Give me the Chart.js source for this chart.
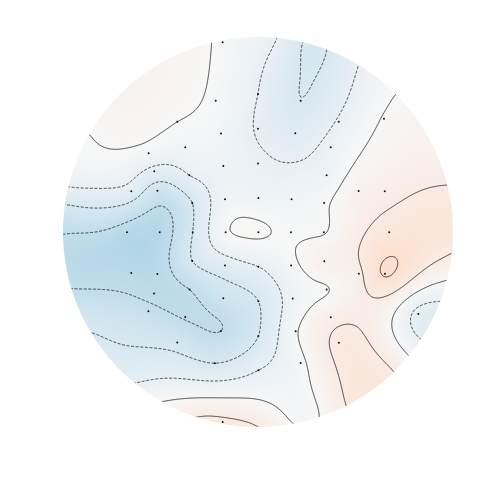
<!DOCTYPE html>
<html><head><meta charset="utf-8">
<script src="https://cdn.jsdelivr.net/npm/chart.js@4/dist/chart.umd.min.js"></script>
<style>html,body{margin:0;padding:0;background:#fff}canvas{display:block}</style>
</head><body>
<canvas id="c" width="504" height="504"></canvas>
<script>
// ---- data (head coordinates, unit circle = head outline) ----
const sensorX = [-0.181,-0.217,0.000,0.219,-0.414,0.414,0.646,-0.190,0.000,0.191,-0.561,-0.373,0.373,-0.532,-0.352,-0.178,0.000,0.352,-0.650,-0.516,0.516,0.650,-0.337,-0.169,0.002,0.172,0.339,-0.672,-0.504,-0.335,-0.166,0.002,0.169,0.338,0.673,-0.337,-0.169,0.002,0.170,0.340,-0.650,-0.516,0.517,0.651,-0.533,-0.351,-0.178,0.002,0.178,0.352,-0.562,-0.373,0.373,0.822,-0.190,0.002,0.193,-0.414,0.415,-0.221,0.002,0.219,-0.181];
const sensorY = [0.973,0.673,0.708,0.673,0.565,0.565,0.581,0.505,0.529,0.507,0.404,0.435,0.435,0.312,0.291,0.339,0.351,0.291,0.209,0.211,0.210,0.209,0.149,0.168,0.175,0.168,0.149,-0.001,-0.001,-0.001,-0.001,-0.001,-0.001,-0.001,-0.001,-0.149,-0.172,-0.178,-0.172,-0.150,-0.210,-0.215,-0.214,-0.214,-0.315,-0.295,-0.340,-0.355,-0.341,-0.295,-0.406,-0.436,-0.437,-0.421,-0.508,-0.533,-0.509,-0.567,-0.568,-0.673,-0.709,-0.672,-0.974];
const sensorValue = [-0.15,-0.15,-1.0,-1.98,0.0,-0.9,0.05,-0.35,-1.1,-1.5,-0.3,-0.4,-0.7,-1.3,-1.0,-0.6,-0.8,-0.5,-1.4,-2.5,0.5,0.7,-2.0,-0.5,-0.55,-0.4,-0.1,-3.35,-3.4,-2.0,-0.12,0.1,-0.1,-0.05,1.4,-2.0,-1.5,-1.0,-0.2,0.6,-3.3,-3.3,0.8,2.1,-3.2,-3.0,-2.5,-2.0,-0.6,-0.05,-2.8,-3.05,0.7,-1.3,-3.0,-2.0,-0.1,-2.3,1.2,-2.0,-1.0,-0.2,1.2];
// values read on the rim of the head (angle in degrees, 0 = right, 90 = top)
const rimAngle = [90,82.5,75,67.5,60,45,30,15,0,-15,-30,-45,-60,-75,-90,-105,-120,-135,-150,-165,180,172.5,165,150,135,120,105];
const rimValue = [-0.6,-1.2,-2.15,-1.85,-1.1,0.0,0.4,0.95,1.4,-0.1,-1.4,0.9,1.3,-0.2,1.0,1.2,-0.05,-1.5,-2.05,-3.1,-2.95,-2.1,-0.75,0.0,0.35,0.35,0.05];
const contourLevels = [-3,-2,-1,0,1,2];
const colorLimit = 12;

// ---- helpers ----
const RDBU_R = [[5,48,97],[33,102,172],[67,147,195],[146,197,222],[209,229,240],[247,247,247],[253,219,199],[244,165,130],[214,96,77],[178,24,43],[103,0,31]];
function cmap(v){
  let t = 0.5 + v/(2*colorLimit);
  t = Math.min(1, Math.max(0, t))*10;
  const i = Math.min(9, Math.floor(t)), f = t - i;
  const a = RDBU_R[i], b = RDBU_R[i+1];
  return [a[0]+(b[0]-a[0])*f, a[1]+(b[1]-a[1])*f, a[2]+(b[2]-a[2])*f];
}
function phi(r2){ return r2 > 1e-12 ? 0.5*r2*Math.log(r2) : 0; }
function fitTPS(px, py, pv){
  const n = px.length, m = n+3;
  const A = [];
  for (let i=0;i<m;i++) A.push(new Float64Array(m+1));
  for (let i=0;i<n;i++){
    for (let j=0;j<n;j++){ const dx=px[i]-px[j], dy=py[i]-py[j]; A[i][j]=phi(dx*dx+dy*dy); }
    A[i][n]=1; A[i][n+1]=px[i]; A[i][n+2]=py[i];
    A[n][i]=1; A[n+1][i]=px[i]; A[n+2][i]=py[i];
    A[i][m]=pv[i];
  }
  for (let c=0;c<m;c++){
    let p=c, best=Math.abs(A[c][c]);
    for (let r=c+1;r<m;r++){ const v=Math.abs(A[r][c]); if(v>best){best=v;p=r;} }
    if (p!==c){ const t=A[p]; A[p]=A[c]; A[c]=t; }
    const piv=A[c][c];
    for (let r=c+1;r<m;r++){
      const f=A[r][c]/piv; if (f===0) continue;
      for (let k=c;k<=m;k++) A[r][k]-=f*A[c][k];
    }
  }
  const w = new Float64Array(m);
  for (let r=m-1;r>=0;r--){
    let s=A[r][m];
    for (let k=r+1;k<m;k++) s-=A[r][k]*w[k];
    w[r]=s/A[r][r];
  }
  return function(x,y){
    let s = w[n] + w[n+1]*x + w[n+2]*y;
    for (let i=0;i<n;i++){ const dx=x-px[i], dy=y-py[i]; s+=w[i]*phi(dx*dx+dy*dy); }
    return s;
  };
}
function traceContours(F, W, H, level){
  const ptX=new Map(), ptY=new Map(), nb=new Map();
  const hId=(i,j)=>(j*W+i)*2, vId=(i,j)=>(j*W+i)*2+1;
  const addPt=(id,x,y)=>{ if(!ptX.has(id)){ptX.set(id,x);ptY.set(id,y);} };
  const link=(a,b)=>{ if(!nb.has(a)) nb.set(a,[]); if(!nb.has(b)) nb.set(b,[]); nb.get(a).push(b); nb.get(b).push(a); };
  for (let j=0;j<H-1;j++) for (let i=0;i<W-1;i++){
    const a=F[j*W+i], b=F[j*W+i+1], c=F[(j+1)*W+i+1], d=F[(j+1)*W+i];
    const A=a>=level, B=b>=level, C=c>=level, D=d>=level;
    if (A===B && B===C && C===D) continue;
    const e=[];
    if (A!==B){ const id=hId(i,j); addPt(id,i+(level-a)/(b-a),j); e.push(id); }
    if (B!==C){ const id=vId(i+1,j); addPt(id,i+1,j+(level-b)/(c-b)); e.push(id); }
    if (D!==C){ const id=hId(i,j+1); addPt(id,i+(level-d)/(c-d),j+1); e.push(id); }
    if (A!==D){ const id=vId(i,j); addPt(id,i,j+(level-a)/(d-a)); e.push(id); }
    if (e.length===2) link(e[0],e[1]);
    else if (e.length===4){
      const center=(a+b+c+d)/4>=level;
      if (center===A){ link(e[0],e[1]); link(e[2],e[3]); }
      else { link(e[0],e[3]); link(e[1],e[2]); }
    }
  }
  const visited=new Set(), lines=[];
  const walk=(start)=>{
    const line=[start]; visited.add(start); let cur=start;
    while(true){
      const ns=nb.get(cur); let next=null;
      for (const q of ns){ if(!visited.has(q)){ next=q; break; } }
      if (next===null){ if (line.length>2 && ns.includes(start)) line.push(start); break; }
      visited.add(next); line.push(next); cur=next;
    }
    return line.map(id=>[ptX.get(id), ptY.get(id)]);
  };
  for (const [id,ns] of nb) if (ns.length===1 && !visited.has(id)) lines.push(walk(id));
  for (const id of nb.keys()) if (!visited.has(id)) lines.push(walk(id));
  return lines;
}

// ---- plugin drawing the interpolated field and contours ----
const allX = sensorX.concat(rimAngle.map(a=>Math.cos(a*Math.PI/180)));
const allY = sensorY.concat(rimAngle.map(a=>Math.sin(a*Math.PI/180)));
const allV = sensorValue.concat(rimValue);
const field = fitTPS(allX, allY, allV);

const topoPlugin = {
  id: 'topomap',
  beforeDatasetsDraw(chart){
    const ctx = chart.ctx, sx = chart.scales.x, sy = chart.scales.y;
    const left = sx.getPixelForValue(-1), right = sx.getPixelForValue(1);
    const top = sy.getPixelForValue(1), bottom = sy.getPixelForValue(-1);
    const cxp=(left+right)/2, cyp=(top+bottom)/2, Rp=(right-left)/2;
    const x0=Math.floor(left)-1, y0=Math.floor(top)-1;
    const W=Math.ceil(right)-x0+2, H=Math.ceil(bottom)-y0+2;
    const F=new Float64Array(W*H);
    const img=new ImageData(W,H);
    for (let j=0;j<H;j++){
      const Y=y0+j+0.5, vy=sy.getValueForPixel(Y);
      for (let i=0;i<W;i++){
        const X=x0+i+0.5, vx=sx.getValueForPixel(X);
        const v=field(vx,vy);
        F[j*W+i]=v;
        const r=Math.hypot(X-cxp,Y-cyp);
        const al=Math.min(1,Math.max(0,Rp-r+0.5));
        if (al>0){
          const c=cmap(v), k=(j*W+i)*4;
          img.data[k]=c[0]; img.data[k+1]=c[1]; img.data[k+2]=c[2]; img.data[k+3]=al*255;
        }
      }
    }
    const off=document.createElement('canvas'); off.width=W; off.height=H;
    off.getContext('2d').putImageData(img,0,0);
    ctx.save();
    ctx.drawImage(off,x0,y0);
    ctx.beginPath(); ctx.arc(cxp,cyp,Rp-0.3,0,Math.PI*2); ctx.clip();
    ctx.lineWidth=0.9; ctx.strokeStyle='rgba(20,20,20,0.85)'; ctx.lineJoin='round';
    for (const lv of contourLevels){
      ctx.setLineDash(lv<0?[3,1.6]:[]);
      for (const line of traceContours(F,W,H,lv)){
        if (line.length<2) continue;
        ctx.beginPath();
        ctx.moveTo(x0+line[0][0]+0.5, y0+line[0][1]+0.5);
        for (let k=1;k<line.length;k++) ctx.lineTo(x0+line[k][0]+0.5, y0+line[k][1]+0.5);
        ctx.stroke();
      }
    }
    ctx.restore();
  }
};

new Chart(document.getElementById('c'), {
  type: 'scatter',
  data: { datasets: [{
    label: 'sensors',
    data: sensorX.map((x,i)=>({x:x, y:sensorY[i]})),
    pointRadius: 1, pointHoverRadius: 1, borderWidth: 0,
    backgroundColor: '#111'
  }]},
  options: {
    responsive: false, animation: false, devicePixelRatio: 1,
    layout: { padding: { left: 63, right: 51, top: 37, bottom: 77 } },
    scales: {
      x: { type: 'linear', min: -1, max: 1, display: false },
      y: { type: 'linear', min: -1, max: 1, display: false }
    },
    plugins: { legend: { display: false }, tooltip: { enabled: false } }
  },
  plugins: [topoPlugin]
});
</script>
</body></html>
